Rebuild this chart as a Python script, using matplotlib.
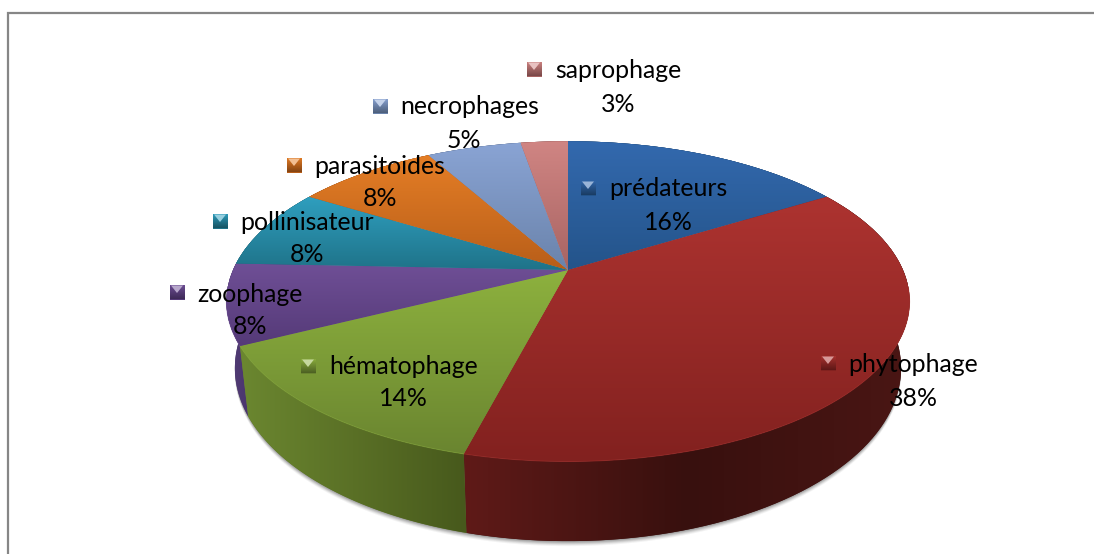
import numpy as np
import matplotlib
matplotlib.use("Agg")
import matplotlib.pyplot as plt
from matplotlib.colors import to_rgb
from matplotlib.patches import Polygon, Rectangle
from matplotlib.transforms import Transform

plt.rcParams['font.family'] = ['Lato', 'DejaVu Sans']

# data
categories = ["prédateurs", "phytophage", "hématophage", "zoophage",
              "pollinisateur", "parasitoides", "necrophages", "saprophage"]
counts = [6, 14, 5, 3, 3, 3, 2, 1]

# colours, top face (top of slice -> bottom of slice)
top_light = ["#3369AE", "#AD3330", "#8DB13E", "#6F4F96", "#2F9FBF", "#E57E26", "#8AA4D4", "#D08583"]
top_dark = ["#24548A", "#82211F", "#6A8530", "#553A78", "#1F7389", "#B85E19", "#6A83AB", "#A86463"]
# side wall (left, middle, right)
wall_left = ["#1C4068", "#5F1A18", "#6B8730", "#54407A", "#175868", "#8A4612", "#505F80", "#7E4B4A"]
wall_mid = ["#1C4068", "#38100E", "#5A7026", "#4F3A72", "#175868", "#8A4612", "#505F80", "#7E4B4A"]
wall_right = ["#1C4068", "#4A1614", "#47591C", "#4B3570", "#175868", "#8A4612", "#505F80", "#7E4B4A"]

# label layout in pixels: (name centre x, name y, marker x, marker y, percent x, percent y)
label_pos = [(668, 189, 588, 188, 668, 222),
             (913, 365, 828, 363, 913, 398),
             (404, 367, 308, 366, 403, 399),
             (250, 294, 177, 292, 250, 326),
             (307, 222, 220, 221, 307, 254),
             (380, 166, 294, 165, 380, 199),
             (470, 107, 380, 106, 464, 141),
             (618, 71, 534, 69, 618, 104)]


class Persp(Transform):
    # unit circle -> tilted disc in pixel coordinates
    input_dims = 2
    output_dims = 2
    is_separable = False

    def __init__(self, z=0.0, cx=568, cy=270, a=335, b=154, k=0.196, t=64, dy=0):
        super().__init__()
        self.z, self.cx, self.cy, self.a, self.b, self.k, self.t, self.dy = z, cx, cy, a, b, k, t, dy

    def transform_non_affine(self, xy):
        xy = np.asarray(xy)
        d = 1 + self.k * xy[:, 1]
        shrink = 1 - 0.025 * self.z
        return np.column_stack([self.cx + shrink * self.a * xy[:, 0] / d,
                                self.cy + (self.t * self.z - self.b * xy[:, 1]) / d + self.dy])


def arc(t1, t2, n=80):
    th = np.radians(np.linspace(t1, t2, n))
    return np.column_stack([np.cos(th), np.sin(th)])


def grad_img(ax, stops, extent, clip, vertical=True, zorder=2):
    stops = np.array([to_rgb(c) for c in stops])
    u = np.linspace(0, 1, 128)
    pos = np.linspace(0, 1, len(stops))
    col = np.column_stack([np.interp(u, pos, stops[:, i]) for i in range(3)])
    arr = col[:, None, :] if vertical else col[None, :, :]
    im = ax.imshow(arr, extent=extent, origin="upper", aspect="auto",
                   interpolation="bilinear", zorder=zorder)
    im.set_clip_path(clip)
    return im


fig = plt.figure(figsize=(10.94, 5.54), dpi=100)
ax = fig.add_axes([0, 0, 1, 1])

wedges, _ = ax.pie(counts, startangle=90, counterclock=False, radius=1)
ax.set_aspect("auto")
ax.set_xlim(0, 1094)
ax.set_ylim(554, 0)
ax.autoscale(False)
ax.axis("off")

# frame
ax.plot([8, 8, 1094], [554, 13, 13], color="#868686", lw=1.6, zorder=1, solid_joinstyle="miter")

p_top = Persp(0)
p_bot = Persp(1)

# soft shadow below the wall
circle = arc(180, 360, 200)
for off, alpha in [(5, 0.07), (4, 0.10), (3, 0.14), (2, 0.18), (1, 0.22)]:
    ax.add_patch(Polygon(Persp(1, dy=off).transform(circle), closed=True, fc="#555555",
                         ec="none", alpha=alpha, zorder=1.5))

# side walls, back ones first
order = sorted(range(len(wedges)), key=lambda i: np.sin(np.radians((wedges[i].theta1 + wedges[i].theta2) / 2)),
               reverse=True)
for i in order:
    w = wedges[i]
    pts = arc(w.theta1, w.theta2)
    up = p_top.transform(pts)
    dn = p_bot.transform(pts)
    poly = Polygon(np.vstack([up, dn[::-1]]), closed=True, fc=wall_mid[i], ec="none", zorder=2)
    ax.add_patch(poly)
    x0, x1 = min(up[:, 0].min(), dn[:, 0].min()), max(up[:, 0].max(), dn[:, 0].max())
    y0, y1 = up[:, 1].min(), dn[:, 1].max()
    grad_img(ax, [wall_left[i], wall_mid[i], wall_right[i]], (x0, x1, y1, y0), poly, vertical=False, zorder=2.1)

# top faces
for i, w in enumerate(wedges):
    w.set_transform(p_top + ax.transData)
    w.set_facecolor(top_dark[i])
    w.set_edgecolor("none")
    w.set_zorder(3)
    pts = p_top.transform(np.vstack([arc(w.theta1, w.theta2), [[0, 0]]]))
    ext = (pts[:, 0].min(), pts[:, 0].max(), pts[:, 1].max(), pts[:, 1].min())
    grad_img(ax, [top_light[i], top_dark[i]], ext, w, zorder=3.1)
    # thin bevel along the front rim
    rim = p_top.transform(arc(w.theta1, w.theta2))
    front = arc(w.theta1, w.theta2)[:, 1] < -0.1
    if front.any():
        ax.plot(rim[front, 0], rim[front, 1], color=top_light[i], lw=0.7, alpha=0.45, zorder=3.2)

# labels
total = sum(counts)
for i, name in enumerate(categories):
    nx, ny, mx, my, px, py = label_pos[i]
    s = 7.5
    sq = Rectangle((mx - s, my - s), 2 * s, 2 * s, fc=top_dark[i], ec="none", zorder=5)
    ax.add_patch(sq)
    dark = tuple(0.72 * c for c in to_rgb(top_dark[i]))
    grad_img(ax, [top_light[i], dark], (mx - s, mx + s, my + s, my - s), sq, zorder=5.1)
    light = tuple(0.5 * c + 0.5 for c in to_rgb(top_light[i]))
    ax.add_patch(Polygon([(mx - s + 1.5, my - s + 1), (mx + s - 1.5, my - s + 1), (mx, my + 1)], closed=True,
                         fc=light, ec="none", zorder=5.2))
    ax.text(nx, ny, name, fontsize=17.9, ha="center", va="center", color="black", zorder=6)
    ax.text(px, py, f"{round(100 * counts[i] / total)}%", fontsize=17.9, ha="center", va="center",
            color="black", zorder=6)

fig.savefig("out.png", dpi=100)
